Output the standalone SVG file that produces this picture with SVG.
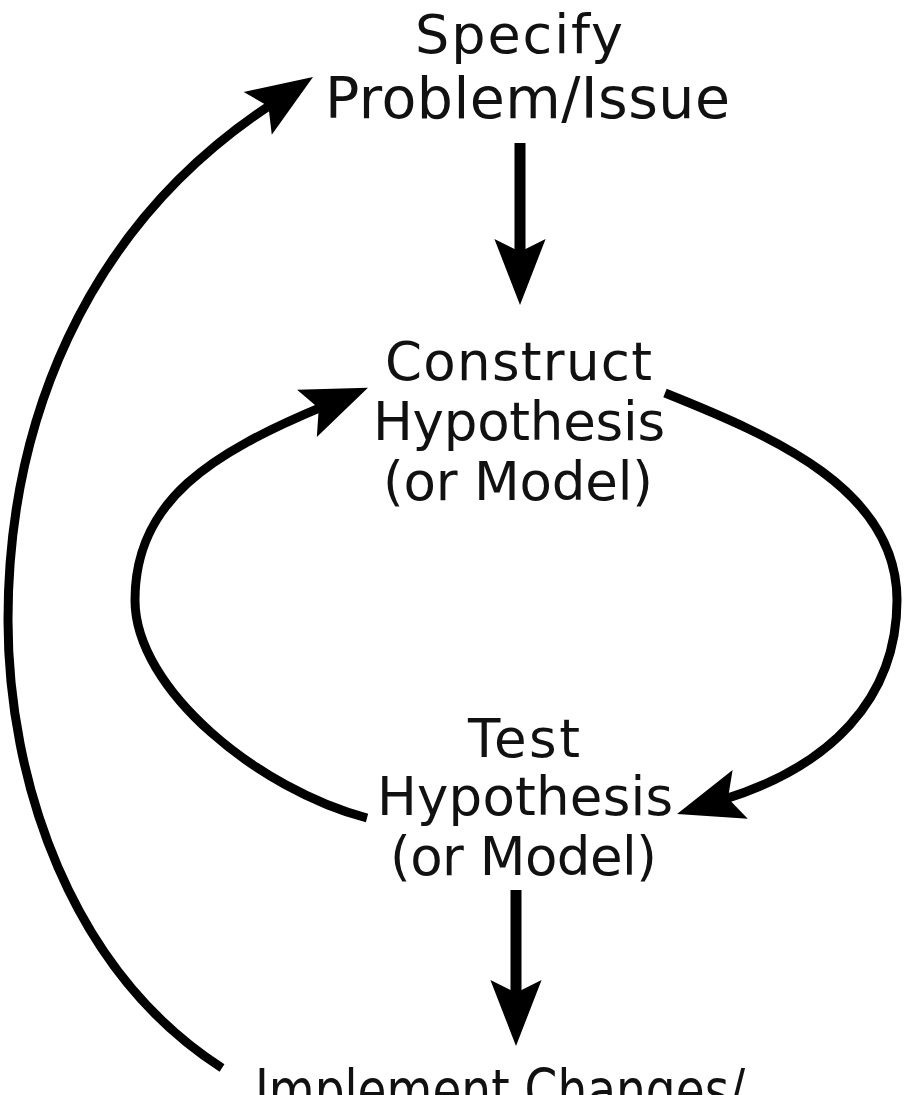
<svg xmlns="http://www.w3.org/2000/svg" width="904" height="1095" viewBox="0 0 904 1095">
  <style>
    .lbl { font-family: "DejaVu Sans", "Liberation Sans", sans-serif; fill: #111; }
    .big { font-size: 57px; }
    .top { font-size: 54px; }
    .mid { font-size: 53px; }
    .conn { fill: none; stroke: #000; stroke-width: 9; }
    .shaft { fill: none; stroke: #000; stroke-width: 11; }
  </style>
  <defs>
    <marker id="head" markerUnits="userSpaceOnUse" markerWidth="80" markerHeight="80" viewBox="-5 -30 75 60" refX="16" refY="0" orient="auto">
      <polygon points="62,0 0,-24 12,0 0,24" fill="#000"/>
    </marker>
  </defs>
  <rect width="904" height="1095" fill="#fff"/>

  <g id="connectors">
    <path class="shaft" d="M520,143 L520,256" marker-end="url(#head)"/>
    <path class="shaft" d="M516,890 L516,997" marker-end="url(#head)"/>
    <path class="conn" d="M222,1068 C70,970 8,780 8,620 C8,430 80,230 272,104" marker-end="url(#head)"/>
    <path class="conn" d="M367,818 C260,790 135,690 135,600 C135,500 212.3,452.9 322.7,406.7" marker-end="url(#head)"/>
    <path class="conn" d="M665,393 C775,437 897,490 897,600 C897,700 829,766.8 723.9,799.4" marker-end="url(#head)"/>
  </g>

  <g id="node-specify">
    <text class="lbl top" x="415" y="53" textLength="208" lengthAdjust="spacing">Specify</text>
    <text class="lbl big" x="325" y="118" textLength="405" lengthAdjust="spacing">Problem/Issue</text>
  </g>
  <g id="node-construct">
    <text class="lbl mid" x="385" y="380" textLength="267" lengthAdjust="spacing">Construct</text>
    <text class="lbl mid" x="373" y="440" textLength="292" lengthAdjust="spacing">Hypothesis</text>
    <text class="lbl mid" x="383" y="500" textLength="270" lengthAdjust="spacing">(or Model)</text>
  </g>
  <g id="node-test">
    <text class="lbl mid" x="468" y="757" textLength="112" lengthAdjust="spacing">Test</text>
    <text class="lbl mid" x="377" y="815" textLength="296" lengthAdjust="spacing">Hypothesis</text>
    <text class="lbl mid" x="390" y="875" textLength="267" lengthAdjust="spacing">(or Model)</text>
  </g>
  <g id="node-implement">
    <text class="lbl big" x="255" y="1110" textLength="490" lengthAdjust="spacingAndGlyphs">Implement Changes/</text>
  </g>
</svg>
